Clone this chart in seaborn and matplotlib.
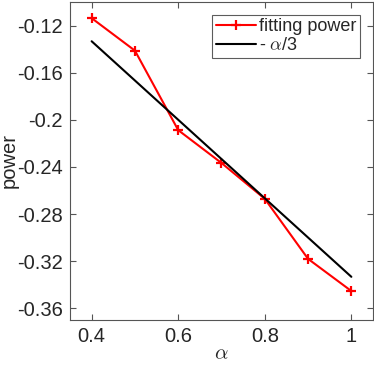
import numpy as np
import pandas as pd
import matplotlib
matplotlib.use("Agg")
import matplotlib.pyplot as plt
import seaborn as sns

alpha = [0.4, 0.5, 0.6, 0.7, 0.8, 0.9, 1.0]
fitting_power = [-0.1137, -0.1413, -0.2088, -0.2367, -0.2671, -0.3181, -0.3454]
theory = [-a / 3 for a in alpha]

df = pd.DataFrame({"alpha": alpha, "fit": fitting_power, "theory": theory})

sns.set_style("white")
plt.rcParams["font.family"] = ["Liberation Sans", "DejaVu Sans"]
plt.rcParams["mathtext.fontset"] = "cm"

fig = plt.figure(figsize=(3.74, 3.67), dpi=100)
ax = fig.add_axes([70 / 374, 47 / 367, 303 / 374, 318 / 367])

sns.lineplot(data=df, x="alpha", y="fit", ax=ax, color="red", marker="+",
             markersize=7, markeredgewidth=1.6, markeredgecolor="red",
             linewidth=1.5, label="fitting power")
sns.lineplot(data=df, x="alpha", y="theory", ax=ax, color="black",
             linewidth=1.5, label=r"- $\alpha$/3")

ax.set_xlim(0.35, 1.05)
ax.set_ylim(-0.37, -0.1)
ax.set_xticks([0.4, 0.6, 0.8, 1.0])
ax.set_xticklabels(["0.4", "0.6", "0.8", "1"])
yt = [-0.36, -0.32, -0.28, -0.24, -0.2, -0.16, -0.12]
ax.set_yticks(yt)
ax.set_yticklabels(["-0.36", "-0.32", "-0.28", "-0.24", "-0.2", "-0.16", "-0.12"])
ax.tick_params(direction="in", length=4, width=0.8, color="#555555",
               labelsize=14.5, labelcolor="#262626", top=True, right=True,
               bottom=True, left=True, pad=5)
for s in ax.spines.values():
    s.set_color("#555555")
    s.set_linewidth(0.8)

ax.set_xlabel(r"$\alpha$", fontsize=15, color="#262626", labelpad=-1)
ax.set_ylabel("power", fontsize=14.5, color="#262626", labelpad=-1)

leg = ax.legend(loc="upper right", fontsize=13, frameon=True, fancybox=False,
                borderaxespad=0.7, handlelength=2.2, handletextpad=0.2,
                borderpad=0.2, labelspacing=0.1)
leg.get_frame().set_edgecolor("#333333")
leg.get_frame().set_linewidth(0.8)

fig.savefig("out.png", dpi=100)
